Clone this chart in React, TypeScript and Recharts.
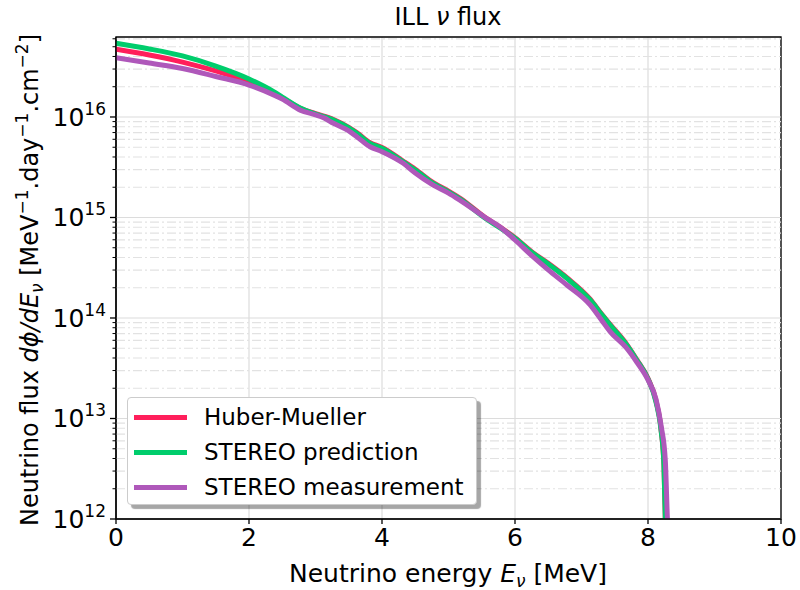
import React from "react";
import { LineChart, Line, XAxis, YAxis, CartesianGrid, ReferenceLine, ReferenceArea } from "recharts";

// energies in MeV, flux in MeV^-1.day^-1.cm^-2
const hmEnergy = [0, 0.5, 1.0, 1.5, 2.0, 2.37, 2.5, 2.77, 3.0, 3.27, 3.5, 3.62, 3.82, 4.0, 4.32, 4.5, 4.77, 5.0, 5.17, 5.57, 5.77, 6.0, 6.27, 6.5, 6.78, 7.13, 7.3, 7.43, 7.68, 7.83, 8.0, 8.12, 8.2, 8.24, 8.26, 8.27];
const hmFlux = [4.72e16, 4.14e16, 3.52e16, 2.87e16, 2.25e16, 1.73e16, 1.55e16, 1.22e16, 1.08e16, 9.45e15, 7.9e15, 7.0e15, 5.56e15, 4.96e15, 3.63e15, 3.02e15, 2.22e15, 1.83e15, 1.56e15, 9.8e14, 8.07e14, 6.3e14, 4.47e14, 3.5e14, 2.52e14, 1.54e14, 1.1e14, 8.65e13, 5.47e13, 3.86e13, 2.5e13, 1.5e13, 7.4e12, 3.4e12, 1.0e12, 5e11];

const predEnergy = [0, 0.5, 1.0, 1.5, 2.0, 2.37, 2.5, 2.77, 3.0, 3.27, 3.5, 3.62, 3.82, 4.0, 4.32, 4.5, 4.77, 5.0, 5.17, 5.57, 5.77, 6.0, 6.27, 6.5, 6.78, 7.13, 7.3, 7.43, 7.68, 7.83, 8.0, 8.12, 8.2, 8.24, 8.26, 8.27];
const predFlux = [5.41e16, 4.75e16, 4.05e16, 3.21e16, 2.39e16, 1.79e16, 1.58e16, 1.23e16, 1.07e16, 9.33e15, 7.78e15, 6.89e15, 5.47e15, 4.88e15, 3.57e15, 2.97e15, 2.18e15, 1.8e15, 1.53e15, 9.66e14, 7.94e14, 6.21e14, 4.4e14, 3.44e14, 2.48e14, 1.51e14, 1.09e14, 8.51e13, 5.38e13, 3.82e13, 2.47e13, 1.46e13, 7.34e12, 3.44e12, 1.05e12, 5e11];

const measEnergy = [0, 0.5, 1.0, 1.5, 2.0, 2.37, 2.5, 2.77, 3.0, 3.12, 3.27, 3.5, 3.62, 3.82, 4.0, 4.32, 4.5, 4.77, 5.0, 5.17, 5.57, 5.77, 6.0, 6.27, 6.5, 6.78, 7.13, 7.3, 7.43, 7.68, 7.83, 8.0, 8.12, 8.2, 8.26, 8.29, 8.31];
const measFlux = [3.89e16, 3.44e16, 3.04e16, 2.53e16, 2.08e16, 1.66e16, 1.51e16, 1.17e16, 1.05e16, 9.85e15, 8.65e15, 7.26e15, 6.37e15, 5.06e15, 4.52e15, 3.46e15, 2.77e15, 2.1e15, 1.75e15, 1.49e15, 9.82e14, 8.1e14, 5.97e14, 4.07e14, 3.01e14, 2.13e14, 1.35e14, 9.55e13, 7.31e13, 5.0e13, 3.65e13, 2.42e13, 1.56e13, 8.28e12, 3.86e12, 1.07e12, 5e11];

const xTicks = [0, 2, 4, 6, 8, 10];
const decades = [1e12, 1e13, 1e14, 1e15, 1e16];
const minorMultipliers = [2, 3, 4, 5, 6, 7, 8, 9];
const yMin = 1e12;
const yMax = 6.25e16;

const series = [
  { name: "Huber-Mueller", color: "#ff1f5b", energy: hmEnergy, flux: hmFlux },
  { name: "STEREO prediction", color: "#00cd6c", energy: predEnergy, flux: predFlux },
  { name: "STEREO measurement", color: "#af58ba", energy: measEnergy, flux: measFlux },
];

const minorTicks = decades.flatMap((d) => minorMultipliers.map((m) => m * d)).filter((v) => v < yMax);
const yTicks = [...decades, ...minorTicks].sort((a, b) => a - b);

const FONT = "DejaVu Sans, sans-serif";

function YTick({ x, y, payload }: any) {
  const lg = Math.log10(payload.value);
  const major = Math.abs(lg - Math.round(lg)) < 1e-6;
  return (
    <g>
      <line x1={x - (major ? 6 : 3.5)} x2={x} y1={y} y2={y} stroke="#000" strokeWidth={major ? 1.3 : 1} />
      {major && (
        <text x={x - 10} y={y + 9} textAnchor="end" fontSize={25} fill="#000" fontFamily={FONT}>
          10<tspan dy={-11} fontSize={17}>{Math.round(lg)}</tspan>
        </text>
      )}
    </g>
  );
}

export default function App() {
  return (
    <div style={{ position: "absolute", left: 0, top: 0, width: 800, height: 590, background: "#fff", fontFamily: FONT }}>
      <LineChart width={800} height={590} margin={{ top: 37, right: 19, bottom: 31, left: 0 }}>
        <CartesianGrid horizontal={false} stroke="#dcdcdc" strokeWidth={1.2} />
        {minorTicks.map((v) => (
          <ReferenceLine key={"m" + v} y={v} stroke="#e2e2e2" strokeWidth={1.2} strokeDasharray="9 3 2 3" />
        ))}
        {decades.map((v) => (
          <ReferenceLine key={"d" + v} y={v} stroke="#dcdcdc" strokeWidth={1.2} />
        ))}
        <XAxis
          dataKey="e"
          type="number"
          domain={[0, 10]}
          ticks={xTicks}
          allowDataOverflow
          height={40}
          tickSize={5}
          tickMargin={4}
          tickLine={{ stroke: "#000", strokeWidth: 1.3 }}
          axisLine={{ stroke: "#000", strokeWidth: 1.3 }}
          tick={{ fill: "#000", fontSize: 25, fontFamily: FONT }}
        />
        <YAxis
          dataKey="flux"
          type="number"
          scale="log"
          domain={[yMin, yMax]}
          allowDataOverflow
          ticks={yTicks}
          interval={0}
          width={116}
          tickSize={0}
          tickMargin={0}
          tickLine={false}
          axisLine={{ stroke: "#000", strokeWidth: 1.3 }}
          tick={<YTick />}
        />
        {series.map((s) => (
          <Line
            key={s.name}
            data={s.energy.map((e, i) => ({ e, flux: s.flux[i] }))}
            dataKey="flux"
            name={s.name}
            type="monotone"
            stroke={s.color}
            strokeWidth={5}
            dot={false}
            isAnimationActive={false}
          />
        ))}
        <ReferenceArea x1={0} x2={10} y1={yMin} y2={yMax} fill="none" stroke="#000" strokeWidth={1.3} />
      </LineChart>

      <svg width={800} height={590} style={{ position: "absolute", left: 0, top: 0, pointerEvents: "none" }}>
        <text x={448} y={25} textAnchor="middle" fontSize={24} fill="#000" fontFamily={FONT}>
          ILL <tspan fontStyle="italic">ν</tspan> flux
        </text>
        <text x={448} y={582} textAnchor="middle" fontSize={25} fill="#000" fontFamily={FONT}>
          Neutrino energy <tspan fontStyle="italic">E</tspan>
          <tspan fontStyle="italic" fontSize={17} dy={5}>ν</tspan>
          <tspan dy={-5}> [MeV]</tspan>
        </text>
        <text x={38} y={280} transform="rotate(-90 38 280)" textAnchor="middle" fontSize={24} fill="#000" fontFamily={FONT}>
          Neutrino flux <tspan fontStyle="italic">dϕ/dE</tspan>
          <tspan fontStyle="italic" fontSize={17} dy={5}>ν</tspan>
          <tspan dy={-5}> [MeV</tspan>
          <tspan fontSize={17} dy={-10}>−1</tspan>
          <tspan dy={10}>.day</tspan>
          <tspan fontSize={17} dy={-10}>−1</tspan>
          <tspan dy={10}>.cm</tspan>
          <tspan fontSize={17} dy={-10}>−2</tspan>
          <tspan dy={10}>]</tspan>
        </text>
      </svg>

      <div
        style={{
          position: "absolute",
          left: 127,
          top: 397,
          width: 350,
          height: 108,
          boxSizing: "border-box",
          background: "#fff",
          border: "1px solid #cccccc",
          borderRadius: 4,
          boxShadow: "4px 4px 1px rgba(0,0,0,0.35)",
        }}
      >
        {series.map((s, i) => (
          <div key={s.name} style={{ position: "absolute", left: 6, top: 3 + i * 35, height: 32, display: "flex", alignItems: "center" }}>
            <div style={{ width: 53, height: 5, background: s.color }} />
            <span style={{ marginLeft: 17, fontSize: 23, color: "#000", whiteSpace: "nowrap" }}>{s.name}</span>
          </div>
        ))}
      </div>
    </div>
  );
}
